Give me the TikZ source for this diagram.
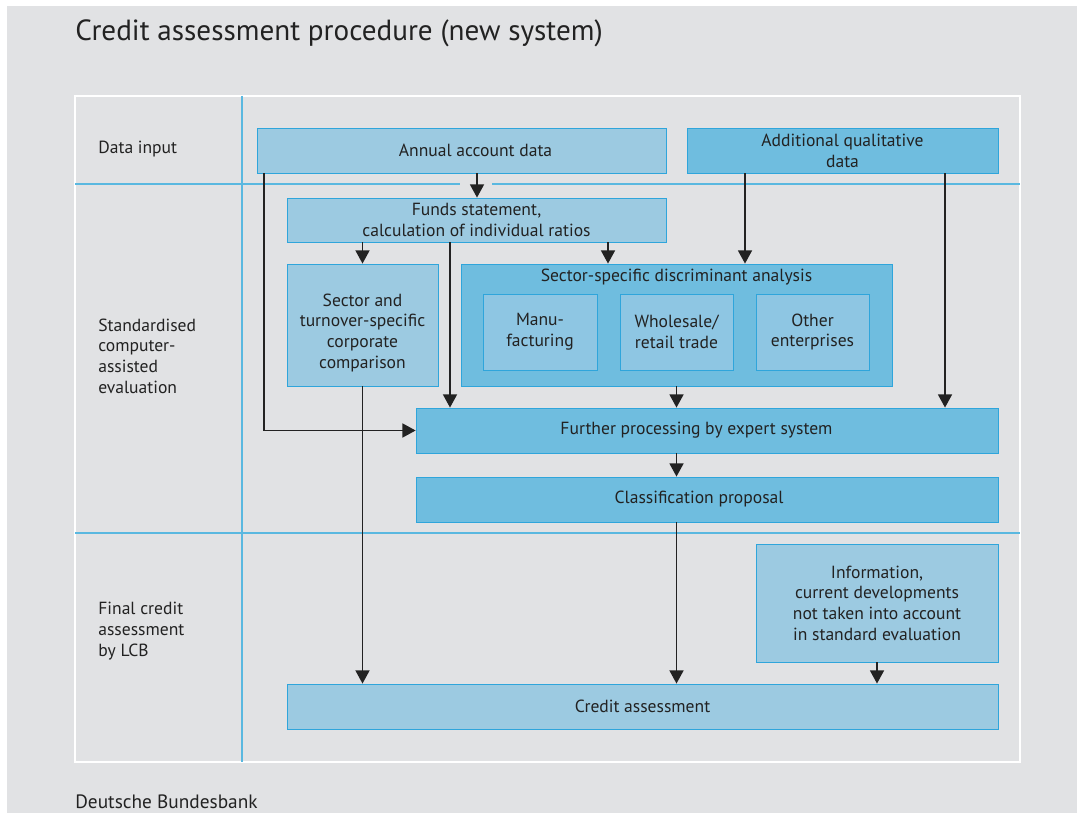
\documentclass[tikz,border=0pt]{standalone}
\usepackage{fontspec}
\setmainfont{PT Sans}
\usetikzlibrary{arrows.meta}

\definecolor{panel}{HTML}{E1E2E4}
\definecolor{lane}{HTML}{5AB8E0}
\definecolor{boxedge}{HTML}{2FA5DB}
\definecolor{pale}{HTML}{9CCAE1}
\definecolor{deep}{HTML}{6FBDDF}
\definecolor{mid}{HTML}{8EC6E3}
\definecolor{ink}{HTML}{222222}

\newcommand{\boxfont}{\fontsize{10}{11.8}\selectfont}

\begin{document}
\begin{tikzpicture}[x=0.02cm,y=-0.02cm,
  box/.style={draw=boxedge,line width=0.5pt,inner sep=0pt,align=center,font=\boxfont,text=ink},
  lanetext/.style={inner sep=0pt,align=left,font=\boxfont,text=ink,anchor=west},
  flow/.style={draw=ink,line width=0.8pt,-{Triangle[width=8pt,length=7.5pt]}}]
\useasboundingbox (0,0) rectangle (1077,813);
\fill[white] (0,0) rectangle (1077,813);
\fill[panel] (7,6) rectangle (1077,813);

\node[anchor=base west,inner sep=0pt,font=\fontsize{16.6}{19}\selectfont,text=ink] (title) at (75,41) {Credit assessment procedure (new system)};
\node[anchor=base west,inner sep=0pt,font=\fontsize{11}{13}\selectfont,text=ink] (source) at (75,808) {Deutsche Bundesbank};

\draw[white,line width=1.4pt] (75,96) rectangle (1020,762);
\draw[lane,line width=1.4pt] (242,96) -- (242,762);
\draw[lane,line width=1.4pt] (75,184) -- (460,184);
\draw[lane,line width=1.4pt] (492,184) -- (1020,184);
\draw[lane,line width=1.4pt] (75,533) -- (1020,533);

\node[lanetext] (lane1) at (98,149) {Data input};
\node[lanetext] (lane2) at (98,356) {Standardised\\computer-\\assisted\\evaluation};
\node[lanetext] (lane3) at (98,631) {Final credit\\assessment\\by LCB};

\node[box,fill=pale,minimum width=8.18cm,minimum height=0.9cm] (annual) at (461.5,150.5) {\hspace*{16pt}Annual account data};
\node[box,fill=deep,minimum width=6.22cm,minimum height=0.9cm] (addl) at (842.5,150.5) {Additional qualitative\\data};
\node[box,fill=pale,minimum width=7.58cm,minimum height=0.88cm] (funds) at (476.5,220) {Funds statement,\\calculation of individual ratios};
\node[box,fill=pale,minimum width=3.02cm,minimum height=2.44cm] (sector) at (362.5,325) {\rule{0pt}{16pt}Sector and\\turnover-specific\\corporate\\comparison};
\node[box,fill=deep,minimum width=8.62cm,minimum height=2.44cm] (discr) at (676.5,325) {};
\node[inner sep=0pt,font=\boxfont,text=ink] (dtitle) at (676.5,277) {Sector-specific discriminant analysis};
\node[box,fill=mid,minimum width=2.28cm,minimum height=1.52cm] (manu) at (540,332) {Manu-\\facturing};
\node[box,fill=mid,minimum width=2.26cm,minimum height=1.52cm] (trade) at (676.5,332) {Wholesale/\\retail trade};
\node[box,fill=mid,minimum width=2.26cm,minimum height=1.52cm] (other) at (812.5,332) {Other\\enterprises};
\node[box,fill=deep,minimum width=11.64cm,minimum height=0.9cm] (further) at (707,430.5) {Further processing by expert system\hspace*{12pt}};
\node[box,fill=deep,minimum width=11.64cm,minimum height=0.9cm] (classif) at (707,499.5) {Classification proposal\hspace*{9pt}};
\node[box,fill=pale,minimum width=4.84cm,minimum height=2.36cm] (info) at (877,603) {Information,\\current developments\\not taken into account\\in standard evaluation};
\node[box,fill=pale,minimum width=14.22cm,minimum height=0.9cm] (credit) at (642.5,706.5) {Credit assessment};

\coordinate (cA) at (477,0);
\coordinate (cB) at (264,0);
\coordinate (cD) at (450,0);
\coordinate (cE) at (608,0);
\coordinate (cF) at (745,0);
\coordinate (cG) at (945,0);

\path[flow] (annual.south -| cA) -- (funds.north -| cA);
\path[flow] (annual.south -| cB) |- (further.west);
\path[flow] (funds.south -| sector.north) -- (sector.north);
\path[flow] (funds.south -| cD) -- (further.north -| cD);
\path[flow] (funds.south -| cE) -- (discr.north -| cE);
\path[flow] (addl.south -| cF) -- (discr.north -| cF);
\path[flow] (addl.south -| cG) -- (further.north -| cG);
\path[flow] (discr.south) -- (further.north -| discr.south);
\path[flow] (further.south -| discr.south) -- (classif.north -| discr.south);
\path[flow] (sector.south) -- (credit.north -| sector.south);
\path[flow] (classif.south -| discr.south) -- (credit.north -| discr.south);
\path[flow] (info.south) -- (credit.north -| info.south);
\end{tikzpicture}
\end{document}
